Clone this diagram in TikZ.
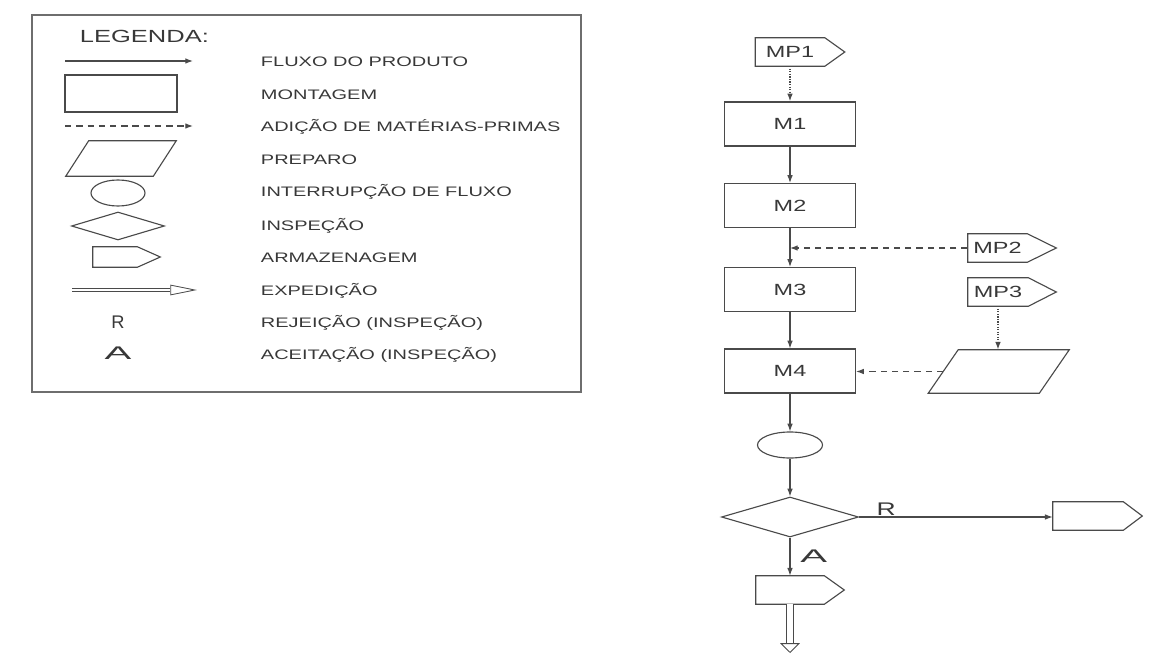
\documentclass[tikz,border=0pt]{standalone}
\usepackage{fontspec}
\setmainfont{Liberation Sans}
\newfontfamily\largo[FakeStretch=1.45]{Liberation Sans}
\newfontfamily\largoA[FakeStretch=2.2]{Liberation Sans}
\usetikzlibrary{shapes.geometric,arrows.meta}

\definecolor{traco}{HTML}{4A4A4A}
\definecolor{texto}{HTML}{383838}

\tikzset{
	linha/.style={draw=traco, line width=0.8pt},
	fluxo/.style={linha, -{Latex[length=5.5pt,width=4pt]}},
	adicao/.style={fluxo, dash pattern=on 4.5pt off 3.5pt},
	pontilhado/.style={fluxo, densely dotted, line width=1.2pt},
	expedicao/.style={draw=traco, line width=0.6pt, double, double distance=#1},
	rotulo/.style={font=\largo\fontsize{9.8}{11}\selectfont, text=texto},
	nome/.style={font=\largo\fontsize{11.5}{13}\selectfont, text=texto},
	caixa/.style={linha, rectangle, inner sep=0pt, minimum width=3.275cm, minimum height=1.1cm, nome},
	corpo/.style={rectangle, inner sep=0pt, minimum height=0.7cm, nome},
	letra/.style={font=\fontsize{13}{15}\selectfont, text=texto, inner sep=1pt}
}

% pentagono de armazenagem em volta de um no
\newcommand\armazem[2]{\draw[linha] (#1.north west) -- (#1.north east) -- ([xshift=#2]#1.east) -- (#1.south east) -- (#1.south west) -- cycle;}
% paralelogramo de preparo em volta de um no
\newcommand\paralelo[2]{\draw[linha] ([xshift=-#2]#1.south west) -- ([xshift=#2]#1.north west) -- ([xshift=#2]#1.north east) -- ([xshift=-#2]#1.south east) -- cycle;}

\begin{document}
\begin{tikzpicture}[x=0.025cm, y=-0.025cm]
	\useasboundingbox (0,0) rectangle (1162,668);

	% legenda
	\node (leg)[draw=traco!80, line width=1.2pt, minimum width=13.725cm, minimum height=9.425cm, inner sep=0pt] at (306.5,203.5) {};
	\node (tit)[rotulo, font=\largo\fontsize{12.5}{14}\selectfont, anchor=west] at (75,36) {LEGENDA:};

	\coordinate (fa) at (65,61);
	\coordinate (fb) at (193,61);
	\draw [fluxo](fa) -- (fb);
	\node (lmont)[linha, rectangle, minimum width=2.8cm, minimum height=0.925cm] at (121,93.5) {};
	\coordinate (da) at (65,126);
	\coordinate (db) at (193,126);
	\draw [adicao](da) -- (db);
	\node (lprep)[rectangle, inner sep=0pt, minimum width=2.175cm, minimum height=0.875cm] at (121,158.5) {};
	\paralelo{lprep}{0.2875cm}
	\node (lint)[linha, ellipse, inner sep=0pt, minimum width=1.35cm, minimum height=0.65cm] at (118,193) {};
	\node (linsp)[linha, diamond, inner sep=0pt, minimum width=2.325cm, minimum height=0.7cm] at (118,226) {};
	\node (larm)[corpo, minimum width=1.1cm, minimum height=0.5cm] at (115,257) {};
	\armazem{larm}{0.575cm}
	\coordinate (ea) at (72,290);
	\coordinate (eb) at (197,290);
	\draw [expedicao=1.8pt, -{Triangle[open, length=19pt, width=7.5pt]}](ea) -- (eb);
	\node (lr)[letra] at (118,322) {R};
	\node (la)[letra, font=\largoA\fontsize{13}{15}\selectfont] at (118,353) {A};

	\node (t1)[rotulo, anchor=west] at (256,62) {FLUXO DO PRODUTO};
	\node (t2)[rotulo, anchor=west] at (256,95) {MONTAGEM};
	\node (t3)[rotulo, anchor=west] at (256,127) {ADIÇÃO DE MATÉRIAS-PRIMAS};
	\node (t4)[rotulo, anchor=west] at (256,160) {PREPARO};
	\node (t5)[rotulo, anchor=west] at (256,192) {INTERRUPÇÃO DE FLUXO};
	\node (t6)[rotulo, anchor=west] at (256,226) {INSPEÇÃO};
	\node (t7)[rotulo, anchor=west] at (256,258) {ARMAZENAGEM};
	\node (t8)[rotulo, anchor=west] at (256,291) {EXPEDIÇÃO};
	\node (t9)[rotulo, anchor=west] at (256,323) {REJEIÇÃO (INSPEÇÃO)};
	\node (t10)[rotulo, anchor=west] at (256,355) {ACEITAÇÃO (INSPEÇÃO)};

	% fluxograma
	\node (mp1)[corpo, minimum width=1.725cm] at (790,52) {MP1};
	\armazem{mp1}{0.5cm}
	\node (m1)[caixa] at (790,124) {M1};
	\node (m2)[caixa] at (790,205.5) {M2};
	\node (m3)[caixa] at (790,289.5) {M3};
	\node (m4)[caixa] at (790,371) {M4};
	\node (mp2)[corpo, minimum width=1.475cm] at (997.5,248) {MP2};
	\armazem{mp2}{0.725cm}
	\node (mp3)[corpo, minimum width=1.5cm] at (998,292) {MP3};
	\armazem{mp3}{0.7cm}
	\node (prep)[rectangle, inner sep=0pt, minimum width=2.7625cm, minimum height=1.075cm] at (998.75,371.5) {};
	\paralelo{prep}{0.375cm}
	\node (int)[linha, ellipse, inner sep=0pt, minimum width=1.625cm, minimum height=0.65cm] at (790,445) {};
	\node (insp)[linha, diamond, inner sep=0pt, minimum width=3.425cm, minimum height=1cm] at (790,517) {};
	\node (rej)[corpo, minimum width=1.75cm] at (1088,516) {};
	\armazem{rej}{0.475cm}
	\node (ace)[corpo, minimum width=1.7cm] at (790,590) {};
	\armazem{ace}{0.5cm}
	\coordinate (j2) at (790,248);
	\coordinate (fim) at (790,653);

	\draw [pontilhado](mp1) -- (m1);
	\draw [fluxo](m1) -- (m2);
	\draw [fluxo](m2) -- (m3);
	\draw [adicao](mp2) -- (j2);
	\draw [fluxo](m3) -- (m4);
	\draw [pontilhado](mp3) -- (prep.north -| mp3);
	\draw [adicao](prep.west) -- (prep.west -| m4.east);
	\draw [fluxo](m4) -- (int);
	\draw [fluxo](int) -- (insp);
	\draw [fluxo](insp.east) -- node [pos=0.14, above, letra, font=\largo\fontsize{13}{15}\selectfont]{R} (rej.west |- insp.east);
	\draw [fluxo](insp.south) -- node [midway, right, letra, xshift=6pt, font=\largoA\fontsize{13}{15}\selectfont]{A} (ace.north);
	\draw [expedicao=4pt, -{Triangle[open, length=7pt, width=14pt]}](ace.south) -- (fim);
\end{tikzpicture}
\end{document}
